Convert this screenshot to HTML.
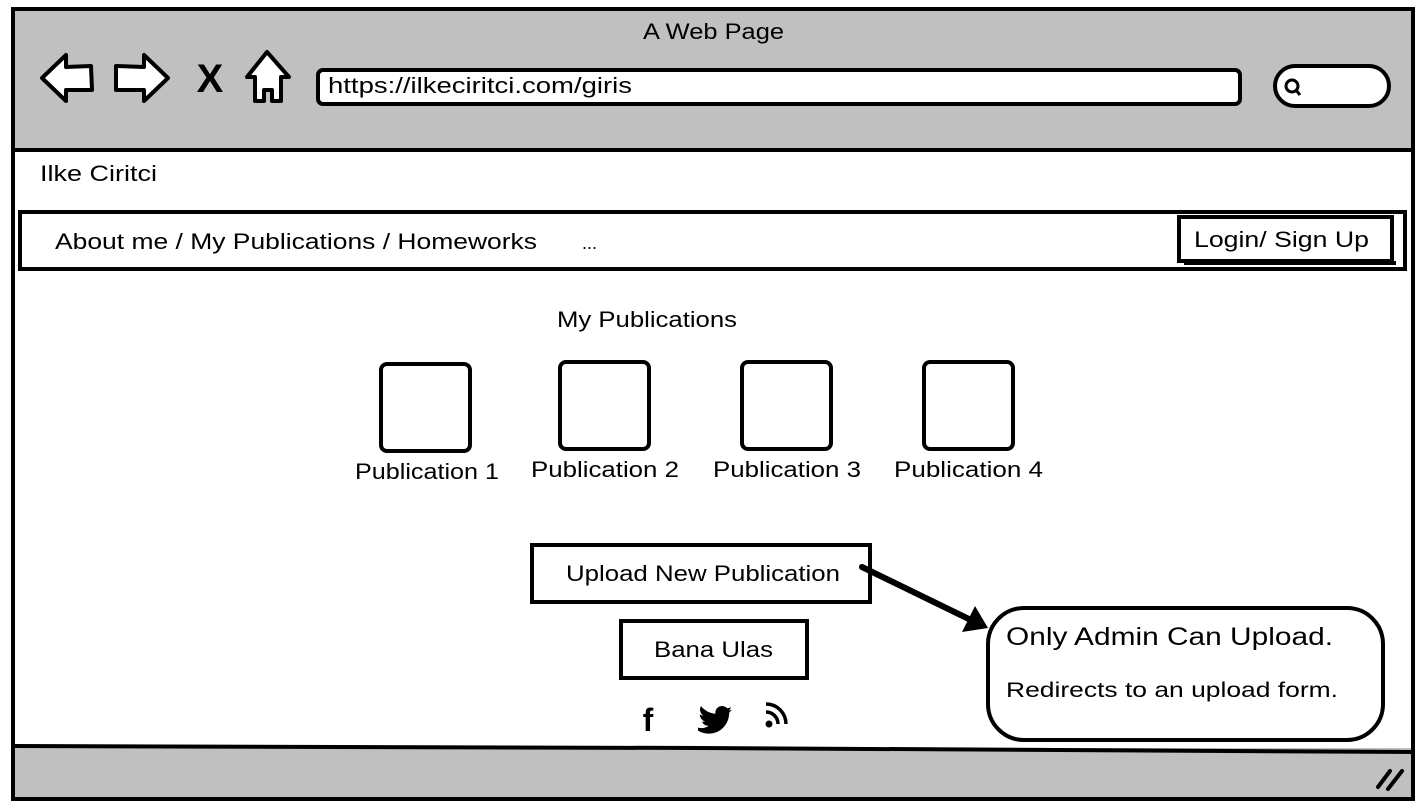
<!DOCTYPE html>
<html><head><style>
html,body{margin:0;padding:0;background:#fff;}
svg{display:block;}
text{font-family:"Liberation Sans",sans-serif;fill:#000;}
</style></head><body>
<svg width="1428" height="812" viewBox="0 0 1428 812">
<rect x="0" y="0" width="1428" height="812" fill="#fff"/>
<rect x="13" y="9" width="1400" height="790" fill="#fff" stroke="#000" stroke-width="4"/>
<rect x="15" y="11" width="1396" height="138" fill="#c0c0c0"/>
<line x1="13" y1="150" x2="1413" y2="150" stroke="#000" stroke-width="4"/>
<rect x="15" y="748" width="1396" height="49" fill="#c0c0c0"/>
<path d="M13 746 L700 748 L1413 752" stroke="#000" stroke-width="4" fill="none"/>
<text x="643" y="39" font-size="22" textLength="141" lengthAdjust="spacingAndGlyphs">A Web Page</text>
<path d="M42 78 L66 55 L66 67 L91 66 L92 90 L66 90 L66 101 Z" fill="#fff" stroke="#000" stroke-width="4" stroke-linejoin="round"/>
<path d="M168 78 L144 55 L144 67 L116 66 L116 90 L144 90 L144 101 Z" fill="#fff" stroke="#000" stroke-width="4" stroke-linejoin="round"/>
<text x="210" y="92" font-size="40" font-weight="bold" text-anchor="middle">X</text>
<path d="M267 52 L289 77 L281 77 L281 101 L272 101 L272 90 L264 90 L264 101 L255 101 L255 77 L247 77 Z" fill="#fff" stroke="#000" stroke-width="4" stroke-linejoin="round"/>
<rect x="318" y="70" width="922" height="34" rx="5" fill="#fff" stroke="#000" stroke-width="4"/>
<text x="328" y="93" font-size="22" textLength="304" lengthAdjust="spacingAndGlyphs">https://ilkeciritci.com/giris</text>
<rect x="1275" y="66" width="114" height="40" rx="20" fill="#fff" stroke="#000" stroke-width="4"/>
<circle cx="1292" cy="86" r="6" fill="none" stroke="#000" stroke-width="3"/>
<line x1="1296" y1="90" x2="1300" y2="95" stroke="#000" stroke-width="3"/>
<text x="40" y="181" font-size="22" textLength="117" lengthAdjust="spacingAndGlyphs">Ilke Ciritci</text>
<rect x="20" y="212" width="1385" height="57" fill="#fff" stroke="#000" stroke-width="4"/>
<text x="55" y="249" font-size="22" textLength="482" lengthAdjust="spacingAndGlyphs">About me / My Publications / Homeworks</text>
<text x="582" y="249" font-size="18">...</text>
<rect x="1179" y="217" width="213" height="44" fill="#fff" stroke="#000" stroke-width="4"/>
<line x1="1184" y1="263" x2="1396" y2="263" stroke="#000" stroke-width="4"/>
<text x="1194" y="247" font-size="22" textLength="175" lengthAdjust="spacingAndGlyphs">Login/ Sign Up</text>
<text x="557" y="327" font-size="22" textLength="180" lengthAdjust="spacingAndGlyphs">My Publications</text>
<rect x="381" y="364" width="89" height="87" rx="6" fill="#fff" stroke="#000" stroke-width="4"/>
<rect x="560" y="362" width="89" height="87" rx="6" fill="#fff" stroke="#000" stroke-width="4"/>
<rect x="742" y="362" width="89" height="87" rx="6" fill="#fff" stroke="#000" stroke-width="4"/>
<rect x="924" y="362" width="89" height="87" rx="6" fill="#fff" stroke="#000" stroke-width="4"/>
<text x="355" y="479" font-size="22" textLength="144" lengthAdjust="spacingAndGlyphs">Publication 1</text>
<text x="531" y="477" font-size="22" textLength="148" lengthAdjust="spacingAndGlyphs">Publication 2</text>
<text x="713" y="477" font-size="22" textLength="148" lengthAdjust="spacingAndGlyphs">Publication 3</text>
<text x="894" y="477" font-size="22" textLength="149" lengthAdjust="spacingAndGlyphs">Publication 4</text>
<rect x="532" y="545" width="338" height="57" fill="#fff" stroke="#000" stroke-width="4"/>
<text x="566" y="581" font-size="22" textLength="274" lengthAdjust="spacingAndGlyphs">Upload New Publication</text>
<rect x="621" y="621" width="186" height="57" fill="#fff" stroke="#000" stroke-width="4"/>
<text x="654" y="657" font-size="22" textLength="119" lengthAdjust="spacingAndGlyphs">Bana Ulas</text>
<text x="648" y="731" font-size="32" font-weight="bold" text-anchor="middle">f</text>
<g transform="translate(698,706) scale(0.6)">
<path d="M0 36 C8 38 14 36 18 33 C12 33 8 30 7 26 C9 26 11 26 12 26 C6 24 3 19 3 14 C5 15 7 16 9 16 C3 12 2 5 5 0 C11 8 20 12 29 13 C28 5 34 0 40 0 C44 0 47 2 49 4 L55 2 L52 8 L57 6 L52 11 C52 30 38 46 18 46 C11 46 5 44 0 41 Z" fill="#000"/>
</g>
<circle cx="769" cy="724" r="3.5" fill="#000"/>
<path d="M766 712 A12 12 0 0 1 778 724" stroke="#000" stroke-width="3.5" fill="none"/>
<path d="M766 704 A20 20 0 0 1 786 724" stroke="#000" stroke-width="3.5" fill="none"/>
<line x1="862" y1="567" x2="975" y2="622" stroke="#000" stroke-width="6" stroke-linecap="round"/>
<path d="M988 628 L962 632 L975 606 Z" fill="#000"/>
<rect x="988" y="608" width="395" height="132" rx="36" fill="#fff" stroke="#000" stroke-width="4"/>
<text x="1006" y="645" font-size="25" textLength="327" lengthAdjust="spacingAndGlyphs">Only Admin Can Upload.</text>
<text x="1006" y="697" font-size="21" textLength="332" lengthAdjust="spacingAndGlyphs">Redirects to an upload form.</text>
<line x1="1378" y1="787" x2="1390" y2="771" stroke="#000" stroke-width="4" stroke-linecap="round"/>
<line x1="1388" y1="789" x2="1402" y2="771" stroke="#000" stroke-width="4" stroke-linecap="round"/>
</svg>
</body></html>
